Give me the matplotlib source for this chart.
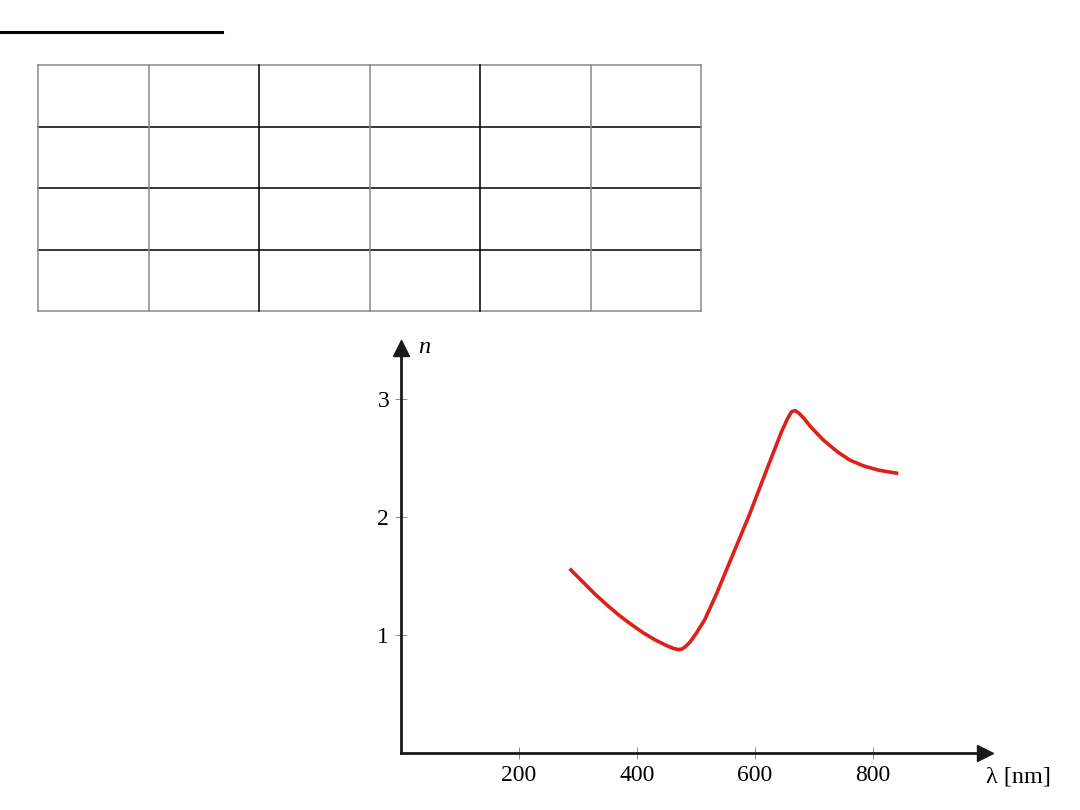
import numpy as np
import matplotlib.pyplot as plt

plt.rcParams['font.family'] = ['Liberation Serif', 'DejaVu Serif']

# wavelength (nm) and refractive index
wavelength = [288, 310, 330, 350, 370, 390, 410, 430, 450, 462, 470, 476, 482, 490, 500, 515,
              535, 560, 590, 620, 645, 655, 662, 668, 674, 682, 695, 716, 740, 761, 785, 810, 840]
index_n = [1.55, 1.44, 1.34, 1.25, 1.165, 1.09, 1.02, 0.96, 0.91, 0.885, 0.876, 0.88, 0.90, 0.94, 1.01, 1.13,
           1.35, 1.65, 2.01, 2.40, 2.72, 2.83, 2.89, 2.90, 2.88, 2.84, 2.76, 2.65, 2.55, 2.48, 2.43, 2.395, 2.37]

x_ticks = [200, 400, 600, 800]
y_ticks = [1, 2, 3]

n_rows, n_cols = 4, 6

W, H = 1080, 810
fig = plt.figure(figsize=(W / 100, H / 100), dpi=100)

# overlay in pixel coords for the header rule and the empty table
ov = fig.add_axes([0, 0, 1, 1])
ov.set_xlim(0, W)
ov.set_ylim(H, 0)
ov.axis('off')
ov.plot([0, 222], [32, 32], color='black', lw=2.2)

tx0, tx1, ty0, ty1 = 38, 701, 65, 311
col_x = np.linspace(tx0, tx1, n_cols + 1)
row_y = np.linspace(ty0, ty1, n_rows + 1)
grey = '#8a8a8a'
for i, y in enumerate(row_y):
    c = grey if i in (0, n_rows) else 'black'
    ov.plot([tx0, tx1], [y, y], color=c, lw=1.1)
for j, x in enumerate(col_x):
    c = 'black' if j in (2, 4) else grey
    ov.plot([x, x], [ty0, ty1], color=c, lw=1.1)

# main plot
ax = fig.add_axes([401 / W, (H - 753) / H, 584 / W, 405 / H])
ax.set_xlim(0, 990)
ax.set_ylim(0, 3.43)
ax.patch.set_alpha(0)
for s in ('top', 'right'):
    ax.spines[s].set_visible(False)
for s in ('left', 'bottom'):
    ax.spines[s].set_linewidth(2.0)
    ax.spines[s].set_color('#1a1a1a')

ax.plot(1, 0, '>', color='#1a1a1a', markersize=11, transform=ax.transAxes, clip_on=False)
ax.plot(0, 1, '^', color='#1a1a1a', markersize=11, transform=ax.transAxes, clip_on=False)

ax.plot(wavelength, index_n, color='#dc2119', lw=2.6, solid_joinstyle='round')

ax.set_xticks(x_ticks)
ax.set_yticks(y_ticks)
ax.set_xticklabels([str(v) for v in x_ticks])
ax.set_yticklabels([str(v) for v in y_ticks])
ax.tick_params(direction='inout', length=9, width=0.6, color='#777777',
               labelsize=17, pad=4)

ax.text((986 - 401) / 584, -0.06, r'λ [nm]', transform=ax.transAxes, fontsize=17.5,
        ha='left', va='center')
ax.text((418 - 401) / 584, 1.0, 'n', transform=ax.transAxes, fontsize=17.5, style='italic',
        ha='left', va='center')

fig.savefig('out.png', dpi=100)
